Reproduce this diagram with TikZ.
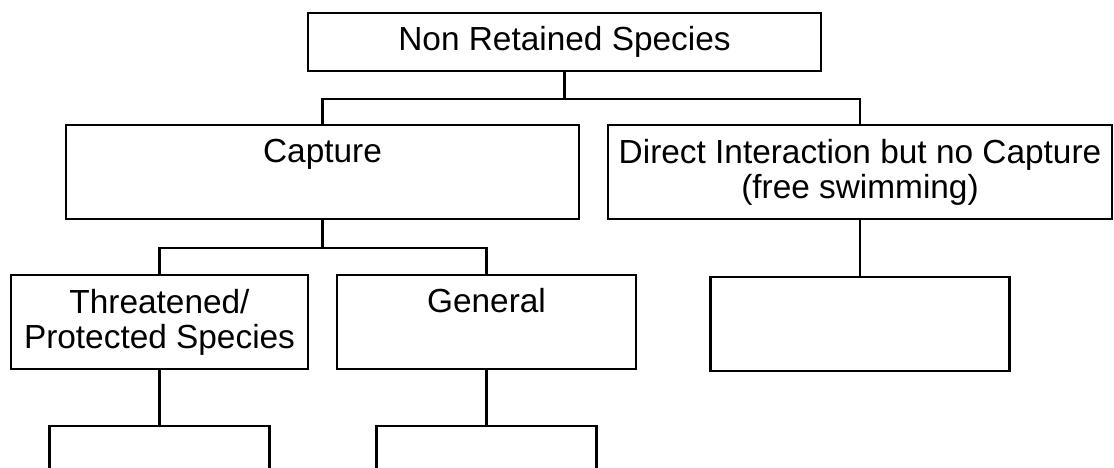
\documentclass[tikz,border=0pt]{standalone}
\usepackage{fontspec}
\setmainfont{Liberation Sans}
\usetikzlibrary{positioning}

\begin{document}
\begin{tikzpicture}[node distance=1.1cm, auto, line width=1.3pt, font=\fontsize{19pt}{20pt}\selectfont]
    % Define styles
    \tikzstyle{box} = [draw, rectangle, minimum height=1.88cm, align=center, inner sep=0pt]
    \tikzstyle{box_top} = [box, text height=0.75cm, text depth=1.13cm]
    \tikzstyle{box_wide} = [box, minimum width=10.26cm]
    \tikzstyle{box_small} = [box, minimum width=5.98cm]
    \tikzstyle{box_open} = [draw, rectangle, minimum width=4.4cm, minimum height=1.88cm]

    \clip (0,0) rectangle (22.28,-9.36);

    % ROOT
    \node (nr_box) [draw, rectangle, minimum width=10.26cm, minimum height=1.16cm] at (11.29,-0.84) {Non Retained Species};

    % FIRST LEVEL
    \node (capture_box) [box_top, box_wide] at (6.45,-3.44) {Capture};
    \node (direct_box) [box, minimum width=10.08cm] at (17.2,-3.44) {Direct Interaction but no Capture\\(free swimming)};

    % SECOND LEVEL
    \node (threat_box) [box, minimum width=5.94cm] at (3.19,-6.44) {Threatened/\\Protected Species};
    \node (general_box) [box_top, box_small] at (9.73,-6.44) {General};
    \node (empty_box) [box_small, below=1.12cm of direct_box] {};

    % THIRD LEVEL (cut off at the bottom)
    \node (threat_sub) [box_open, below=of threat_box] {};
    \node (general_sub) [box_open, below=of general_box] {};

    % CONNECTIONS
    \draw (nr_box.south) -- ++(0,-0.54) -| (capture_box.north);
    \draw (nr_box.south) -- ++(0,-0.54) -| (direct_box.north);
    \draw (capture_box.south) -- ++(0,-0.56) -| (threat_box.north);
    \draw (capture_box.south) -- ++(0,-0.56) -| (general_box.north);
    \draw (direct_box) -- (empty_box);
    \draw (threat_box) -- (threat_sub);
    \draw (general_box) -- (general_sub);

\end{tikzpicture}
\end{document}
